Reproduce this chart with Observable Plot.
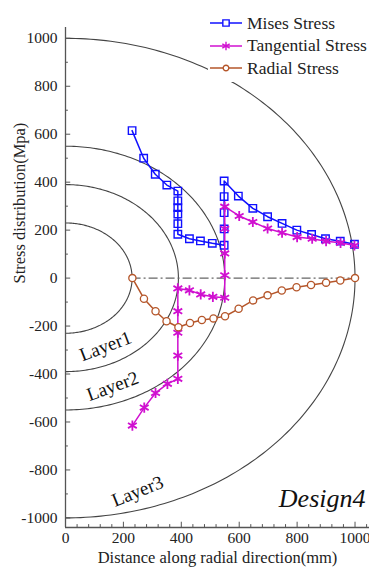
<!DOCTYPE html>
<html>
<head>
<meta charset="utf-8">
<script src="https://cdn.jsdelivr.net/npm/d3@7"></script>
<script src="https://cdn.jsdelivr.net/npm/@observablehq/plot@0.6"></script>
<style>
  html, body { margin: 0; padding: 0; background: white; }
  #wrap { position: relative; width: 369px; height: 574px; font-family: "Liberation Serif", "Times New Roman", Times, "DejaVu Serif", serif; }
  #legend { position: absolute; left: 208px; top: 10px; width: 161px; background: white; padding: 2px 0; }
  .row { display: flex; align-items: center; height: 22.5px; font-size: 17.5px; color: #222; }
  .row svg { margin-right: 3px; }
</style>
</head>
<body>
<div id="wrap"><div id="legend"></div></div>
<script>
// ---- data ----
const seriesNames = ["Mises Stress", "Tangential Stress", "Radial Stress"];
const seriesColors = ["#1010ff", "#d010d0", "#b5562a"];
const seriesSymbols = ["square", "asterisk", "circle"];

const misesX = [230, 270, 310, 350, 388, 388, 388, 388, 388, 388, 428, 466, 507, 548, 548, 548, 548, 548, 597, 647, 698, 748, 799, 850, 898, 949, 998];
const misesY = [615, 500, 433, 388, 363, 322, 294, 267, 227, 183, 164, 155, 145, 137, 205, 273, 340, 405, 342, 291, 256, 228, 200, 182, 164, 154, 141];

const tangX = [231, 272, 311, 352, 388, 388, 388, 388, 388, 428, 467, 509, 550, 550, 550, 550, 550, 600, 647, 698, 748, 800, 852, 900, 950, 998];
const tangY = [-615, -540, -479, -441, -420, -323, -228, -138, -43, -51, -68, -78, -82, 12, 103, 206, 298, 259, 234, 207, 189, 171, 164, 154, 147, 136];

const radX = [231, 271, 311, 349, 390, 430, 471, 511, 551, 598, 648, 698, 747, 798, 848, 900, 949, 1000];
const radY = [0, -86, -138, -180, -205, -187, -175, -168, -159, -128, -93, -72, -52, -38, -29, -19, -10, 0];

const layerRadii = [230, 390, 550, 1000];
const layerNames = ["Layer1", "Layer2", "Layer3"];
const layerX = [138, 163, 249];
const layerY = [-284, -451, -889];
const layerAngle = [-21, -20, -22];

const zeroLineX = [230, 1000];
const designLabel = ["Design4"];
const xTitle = ["Distance along radial direction(mm)"];
const yTitle = ["Stress distribution(Mpa)"];

const yMajor = [-1000, -800, -600, -400, -200, 0, 200, 400, 600, 800, 1000];
const yMinor = [-900, -700, -500, -300, -100, 100, 300, 500, 700, 900];
const xMajor = [0, 200, 400, 600, 800, 1000];
const xMinor = [40, 80, 120, 160, 240, 280, 320, 360, 440, 480, 520, 560, 640, 680, 720, 760, 840, 880, 920, 960, 1040];

// ---- build tables ----
const toRows = (xs, ys) => xs.map((x, i) => ({x, y: ys[i]}));
const mises = toRows(misesX, misesY);
const tang = toRows(tangX, tangY);
const rad = toRows(radX, radY);

const arcs = [];
for (const r of layerRadii) {
  for (let a = -90; a <= 90; a += 1) {
    const t = a * Math.PI / 180;
    arcs.push({r, x: r * Math.cos(t), y: r * Math.sin(t)});
  }
}
const layers = layerNames.map((name, i) => ({name, x: layerX[i], y: layerY[i], a: layerAngle[i]}));

const fmt = d => `${d}`;
const serif = `"Liberation Serif", "Times New Roman", Times, "DejaVu Serif", serif`;
const ink = "#222";

const chart = Plot.plot({
  width: 369,
  height: 574,
  marginLeft: 65,
  marginRight: 0,
  marginTop: 27,
  marginBottom: 47,
  x: {domain: [0, 1050], axis: null},
  y: {domain: [-1040, 1045], axis: null},
  style: {fontFamily: serif, background: "white", overflow: "visible"},
  marks: [
    Plot.line(arcs, {x: "x", y: "y", z: "r", stroke: "#444", strokeWidth: 1.1}),
    Plot.ruleY([0], {x1: zeroLineX[0], x2: zeroLineX[1], stroke: "#666", strokeWidth: 1.4, strokeDasharray: "9,3,2,3"}),
    // axis lines
    Plot.ruleX([0], {stroke: "#555", strokeWidth: 1.3}),
    Plot.ruleY([-1040], {stroke: "#555", strokeWidth: 1.3}),
    // inward ticks
    Plot.ruleY(yMajor, {x1: 0, x2: 18, stroke: "#555"}),
    Plot.ruleY(yMinor, {x1: 0, x2: 10, stroke: "#555"}),
    Plot.ruleX(xMajor, {y1: -1040, y2: -1018, stroke: "#555"}),
    Plot.ruleX(xMinor, {y1: -1040, y2: -1028, stroke: "#555"}),
    // tick labels
    Plot.text(yMajor, {y: d => d, frameAnchor: "left", dx: -8, textAnchor: "end", text: fmt, fontSize: 15.5, fontFamily: serif, fill: ink}),
    Plot.text(xMajor, {x: d => d, frameAnchor: "bottom", dy: 15, text: fmt, fontSize: 15.5, fontFamily: serif, fill: ink}),
    // axis titles
    Plot.text(xTitle, {frameAnchor: "bottom", dy: 35, fontSize: 16.5, fontFamily: serif, fill: ink}),
    Plot.text(yTitle, {frameAnchor: "left", dx: -46, dy: 6, rotate: -90, fontSize: 16.5, fontFamily: serif, fill: ink}),
    // series
    Plot.line(mises, {x: "x", y: "y", stroke: seriesColors[0], strokeWidth: 1.5}),
    Plot.dot(mises, {x: "x", y: "y", symbol: seriesSymbols[0], r: 4.2, stroke: seriesColors[0], strokeWidth: 1.4, fill: "none"}),
    Plot.line(tang, {x: "x", y: "y", stroke: seriesColors[1], strokeWidth: 1.5}),
    Plot.dot(tang, {x: "x", y: "y", symbol: seriesSymbols[1], r: 4.8, stroke: seriesColors[1], strokeWidth: 1.8}),
    Plot.line(rad, {x: "x", y: "y", stroke: seriesColors[2], strokeWidth: 1.5}),
    Plot.dot(rad, {x: "x", y: "y", symbol: seriesSymbols[2], r: 3.6, stroke: seriesColors[2], strokeWidth: 1.3, fill: "white"}),
    // layer labels
    Plot.text(layers, {x: "x", y: "y", text: "name", rotate: "a", fontSize: 19, fill: "#111", fontFamily: serif}),
    Plot.text(designLabel, {frameAnchor: "bottom-right", dx: -4, dy: -21, textAnchor: "end", fontSize: 26, fontStyle: "italic", fill: "#111", fontFamily: serif})
  ]
});
document.getElementById("wrap").prepend(chart);

// legend
const legend = document.getElementById("legend");
seriesNames.forEach((name, i) => {
  const row = document.createElement("div");
  row.className = "row";
  const s = d3.create("svg").attr("width", 36).attr("height", 16);
  s.append("line").attr("x1", 2).attr("x2", 34).attr("y1", 8).attr("y2", 8).attr("stroke", seriesColors[i]).attr("stroke-width", 1.5);
  const sym = {square: d3.symbolSquare, asterisk: d3.symbolAsterisk, circle: d3.symbolCircle}[seriesSymbols[i]];
  const size = {square: 40, asterisk: 50, circle: 25}[seriesSymbols[i]];
  s.append("path").attr("d", d3.symbol(sym, size)()).attr("transform", "translate(18,8)")
    .attr("fill", seriesSymbols[i] === "asterisk" ? "none" : "white")
    .attr("stroke", seriesColors[i]).attr("stroke-width", 1.4);
  row.appendChild(s.node());
  const t = document.createElement("span");
  t.textContent = name;
  row.appendChild(t);
  legend.appendChild(row);
});
</script>
</body>
</html>
